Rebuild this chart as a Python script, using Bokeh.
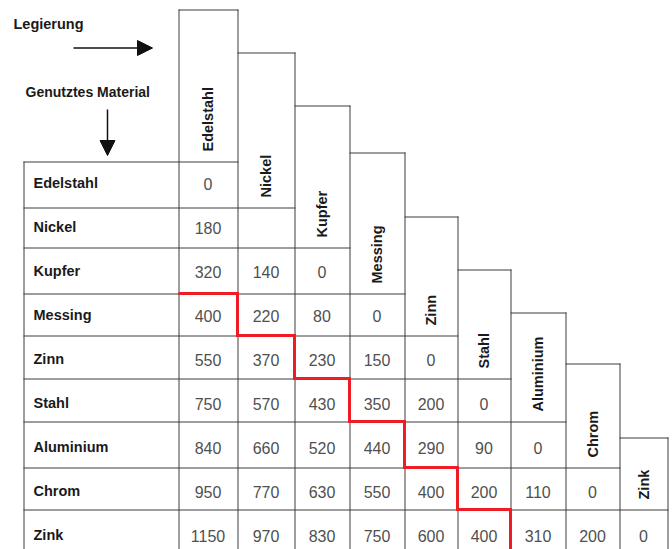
import numpy as np
from bokeh.plotting import figure
from bokeh.models import Range1d, Arrow, NormalHead
from bokeh.core.properties import value
from bokeh.embed import file_html
from bokeh.resources import INLINE

# ---------------- data ----------------
MATERIALS = ["Edelstahl", "Nickel", "Kupfer", "Messing", "Zinn",
             "Stahl", "Aluminium", "Chrom", "Zink"]
ROW_EDELSTAHL = [0]
ROW_NICKEL = [180, None]
ROW_KUPFER = [320, 140, 0]
ROW_MESSING = [400, 220, 80, 0]
ROW_ZINN = [550, 370, 230, 150, 0]
ROW_STAHL = [750, 570, 430, 350, 200, 0]
ROW_ALUMINIUM = [840, 660, 520, 440, 290, 90, 0]
ROW_CHROM = [950, 770, 630, 550, 400, 200, 110, 0]
ROW_ZINK = [1150, 970, 830, 750, 600, 400, 310, 200, 0]
ROWS = [ROW_EDELSTAHL, ROW_NICKEL, ROW_KUPFER, ROW_MESSING, ROW_ZINN,
        ROW_STAHL, ROW_ALUMINIUM, ROW_CHROM, ROW_ZINK]
TITLE_ALLOY = "Legierung"
TITLE_MATERIAL = "Genutztes Material"
STAIR_OFFSET = 3  # red staircase: cells 3+ rows below the diagonal

# ---------------- layout ----------------
LABEL_LEFT = 23
TABLE_LEFT = 178
TABLE_TOP = 161
COL_W = [59, 57, 55, 55, 53, 53, 55, 54, 48]
ROW_H = [46, 40, 46, 42, 43, 43, 46, 42, 46]
HEAD_TOP = [9, 52, 105, 152, 216, 269, 312, 363, 437]
TEXT_Y0 = 183
TEXT_STEP = 44
HEAD_PAD = 10

col_e = TABLE_LEFT + np.concatenate([[0], np.cumsum(COL_W)])
row_e = TABLE_TOP + np.concatenate([[0], np.cumsum(ROW_H)])
col_c = (col_e[:-1] + col_e[1:]) / 2
n = len(MATERIALS)

FONT = value("Liberation Sans")
LINE_COL = "#3c3c3c"
LABEL_COL = "#1a1a1a"

W, H = 672, 549
p = figure(width=W, height=H, x_range=Range1d(0, W), y_range=Range1d(H, 0),
           output_backend="svg", toolbar_location=None, min_border=0,
           x_axis_location=None, y_axis_location=None)
p.grid.visible = False
p.outline_line_color = None
p.background_fill_color = "white"
p.border_fill_color = "white"

# grid lines
x0s, y0s, x1s, y1s = [], [], [], []
h = 0.5
x0s.append(LABEL_LEFT + h); y0s.append(row_e[0]); x1s.append(LABEL_LEFT + h); y1s.append(row_e[-1])
x0s.append(col_e[0] + h); y0s.append(HEAD_TOP[0]); x1s.append(col_e[0] + h); y1s.append(row_e[-1])
for j in range(n):
    x0s.append(col_e[j + 1] + h); y0s.append(HEAD_TOP[j]); x1s.append(col_e[j + 1] + h); y1s.append(row_e[-1])
    x0s.append(col_e[j]); y0s.append(HEAD_TOP[j] + h); x1s.append(col_e[j + 1] + 1); y1s.append(HEAD_TOP[j] + h)
for i in range(n):
    x0s.append(LABEL_LEFT); y0s.append(row_e[i] + h); x1s.append(col_e[i + 1] + 1); y1s.append(row_e[i] + h)
x0s.append(LABEL_LEFT); y0s.append(row_e[-1] + h); x1s.append(col_e[-1] + 1); y1s.append(row_e[-1] + h)
p.segment(x0=x0s, y0=y0s, x1=x1s, y1=y1s, line_color=LINE_COL, line_width=1)

# red staircase
sx, sy = [col_e[0]], [row_e[STAIR_OFFSET]]
j = 0
while j + STAIR_OFFSET < n:
    sx.append(col_e[j + 1]); sy.append(row_e[j + STAIR_OFFSET])
    sx.append(col_e[j + 1]); sy.append(row_e[j + STAIR_OFFSET + 1])
    j += 1
p.line(sx, sy, line_color="#ee1c25", line_width=3, line_join="miter")

# values
vx, vy, vt = [], [], []
for i, row in enumerate(ROWS):
    for j, v in enumerate(row):
        if v is None:
            continue
        vx.append(col_c[j]); vy.append(TEXT_Y0 + i * TEXT_STEP); vt.append(str(v))
p.text(x=vx, y=vy, text=vt, text_align="center", text_baseline="alphabetic",
       text_font=FONT, text_font_size="16px", text_color="#505050")

# row labels
p.text(x=[LABEL_LEFT + 10] * n, y=[TEXT_Y0 + i * TEXT_STEP - 1 for i in range(n)], text=MATERIALS,
       text_align="left", text_baseline="alphabetic", text_font=FONT,
       text_font_style="bold", text_font_size="14.5px", text_color=LABEL_COL)

# column headers (rotated)
p.text(x=list(col_c), y=[row_e[j] - HEAD_PAD for j in range(n)], text=MATERIALS,
       angle=np.pi / 2, text_align="left", text_baseline="middle", text_font=FONT,
       text_font_style="bold", text_font_size="14.5px", text_color=LABEL_COL)

# titles
p.text(x=[13], y=[23], text=[TITLE_ALLOY], text_align="left", text_baseline="alphabetic",
       text_font=FONT, text_font_style="bold", text_font_size="14.5px", text_color=LABEL_COL)
p.text(x=[25], y=[91.5], text=[TITLE_MATERIAL], text_align="left", text_baseline="alphabetic",
       text_font=FONT, text_font_style="bold", text_font_size="14px", text_color=LABEL_COL)

# arrows
p.add_layout(Arrow(end=NormalHead(size=15, fill_color="#111111", line_color="#111111"),
                   x_start=73, y_start=47.5, x_end=152, y_end=47.5,
                   line_color="#111111", line_width=1.5))
p.add_layout(Arrow(end=NormalHead(size=15, fill_color="#111111", line_color="#111111"),
                   x_start=107, y_start=109, x_end=107, y_end=155,
                   line_color="#111111", line_width=1.5))

open("out.html", "w").write(file_html(p, INLINE))
